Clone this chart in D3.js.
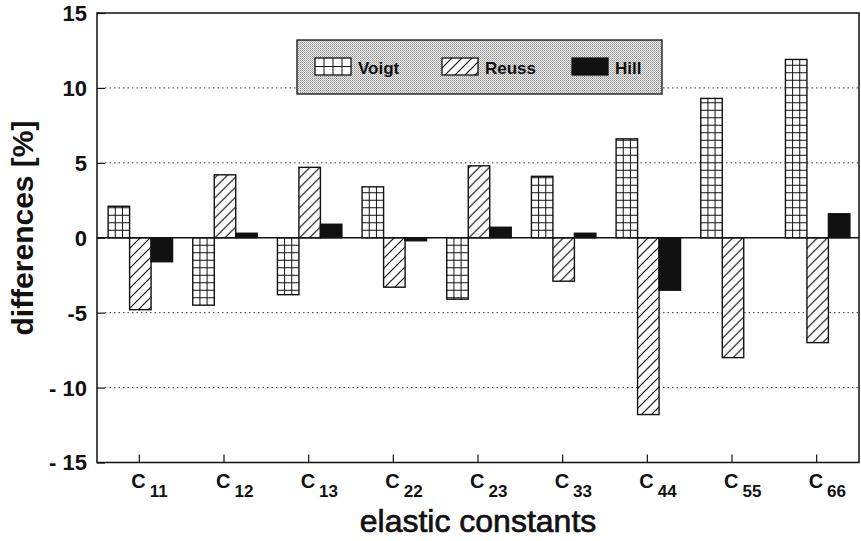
<!DOCTYPE html>
<html>
<head>
<meta charset="utf-8">
<script src="https://cdn.jsdelivr.net/npm/d3@7"></script>
<style>
  body { margin: 0; background: #fff; }
  text { font-family: "Liberation Sans", Arial, Helvetica, sans-serif; fill: #111; }
</style>
</head>
<body>
<div id="chart"></div>
<script>
// elastic constants C_ij, shown as C + subscript
var categories = ["11", "12", "13", "22", "23", "33", "44", "55", "66"];
var series = ["Voigt", "Reuss", "Hill"];

// differences [%]
var voigt = [2.1, -4.5, -3.8, 3.4, -4.1, 4.1, 6.6, 9.3, 11.9];
var reuss = [-4.8, 4.2, 4.7, -3.3, 4.8, -2.9, -11.8, -8.0, -7.0];
var hill  = [-1.6, 0.3, 0.9, -0.2, 0.7, 0.3, -3.5, 0.0, 1.6];

var yTicks = [-15, -10, -5, 0, 5, 10, 15];
var yTickLabels = ["- 15", "- 10", "-5", "0", "5", "10", "15"];
var gridValues = [-10, -5, 5, 10];

var width = 861,
    height = 541;

var svg = d3.select("#chart")
    .append("svg")
    .attr("width", width)
    .attr("height", height);

var defs = svg.append("defs");

// diagonal hatch for Reuss
var hatch = defs.append("pattern")
    .attr("id", "hatch")
    .attr("patternUnits", "userSpaceOnUse")
    .attr("width", 10)
    .attr("height", 10);
hatch.append("rect").attr("width", 10).attr("height", 10).attr("fill", "#fff");
hatch.append("path")
    .attr("d", "M-2,2 L2,-2 M0,10 L10,0 M8,12 L12,8")
    .attr("stroke", "#111")
    .attr("stroke-width", 1.2);

// stipple for the legend box
var stip = defs.append("pattern")
    .attr("id", "stipple")
    .attr("patternUnits", "userSpaceOnUse")
    .attr("width", 2)
    .attr("height", 2);
stip.append("rect").attr("width", 2).attr("height", 2).attr("fill", "#eeeeee");
stip.append("rect").attr("width", 1).attr("height", 1).attr("fill", "#8c8c8c");
stip.append("rect").attr("x", 1).attr("y", 1).attr("width", 1).attr("height", 1).attr("fill", "#b4b4b4");

var x0 = d3.scaleBand()
    .domain(categories)
    .range([97, 859])
    .paddingInner(0)
    .paddingOuter(0);

var x1 = d3.scaleBand()
    .domain(series)
    .range([0, x0.bandwidth()])
    .paddingInner(0)
    .paddingOuter(0.47);

var y = d3.scaleLinear()
    .domain([-15, 15])
    .range([462.5, 13]);

var left = x0.range()[0],
    right = x0.range()[1];

// dotted grid lines
svg.append("g")
  .selectAll("line")
  .data(gridValues)
  .enter()
  .append("line")
    .attr("x1", left + 8)
    .attr("x2", right)
    .attr("y1", function(d) { return y(d); })
    .attr("y2", function(d) { return y(d); })
    .attr("stroke", "#333")
    .attr("stroke-width", 1)
    .attr("stroke-dasharray", "1.5,3");

// y axis ticks (inward) and labels
var yAxis = d3.axisRight(y)
    .tickValues(yTicks)
    .tickSize(8)
    .tickFormat("");
svg.append("g")
    .attr("transform", "translate(" + left + ",0)")
    .call(yAxis)
    .call(function(g) { g.select(".domain").remove(); })
    .selectAll("line").attr("stroke", "#111").attr("stroke-width", 1.2);

svg.append("g")
  .selectAll("text")
  .data(yTicks)
  .enter()
  .append("text")
    .attr("x", left - 10)
    .attr("y", function(d) { return y(d); })
    .attr("dy", "0.36em")
    .attr("text-anchor", "end")
    .attr("font-size", 22)
    .attr("font-weight", "bold")
    .text(function(d, i) { return yTickLabels[i]; });

// x axis ticks (inward)
var xAxis = d3.axisTop(x0)
    .tickSize(8)
    .tickFormat("");
svg.append("g")
    .attr("transform", "translate(0," + y(-15) + ")")
    .call(xAxis)
    .call(function(g) { g.select(".domain").remove(); })
    .selectAll("line").attr("stroke", "#111").attr("stroke-width", 1.2);

// category labels C_ij
var xl = svg.append("g")
  .selectAll("text")
  .data(categories)
  .enter()
  .append("text")
    .attr("x", function(d) { return x0(d) + x0.bandwidth() / 2 - 8; })
    .attr("y", 488)
    .attr("font-size", 20)
    .attr("font-weight", "bold");
xl.append("tspan").text("C");
xl.append("tspan")
    .attr("dx", 4)
    .attr("dy", 9)
    .attr("font-size", 17)
    .text(function(d) { return d; });

// bars
var rows = categories.map(function(c, i) {
  return { cat: c, Voigt: voigt[i], Reuss: reuss[i], Hill: hill[i] };
});

var groups = svg.append("g")
  .selectAll("g")
  .data(rows)
  .enter()
  .append("g")
    .attr("transform", function(d) { return "translate(" + (x0(d.cat) + 1) + ",0)"; });

groups.each(function(d) {
  var g = d3.select(this);
  series.forEach(function(s) {
    var v = d[s];
    var bx = x1(s),
        bw = x1.bandwidth(),
        by = Math.min(y(v), y(0)),
        bh = Math.abs(y(v) - y(0));
    var fill = s === "Hill" ? "#111" : (s === "Reuss" ? "url(#hatch)" : "#fff");
    g.append("rect")
        .attr("x", bx)
        .attr("y", by)
        .attr("width", bw)
        .attr("height", bh)
        .attr("fill", fill)
        .attr("stroke", "#111")
        .attr("stroke-width", 1.4);
    if (s === "Voigt") {
      // square grid inside the Voigt bars
      var cell = 7.5;
      var lines = [];
      [1, 2].forEach(function(k) {
        lines.push([bx + k * bw / 3, by, bx + k * bw / 3, by + bh]);
      });
      for (var t = cell; t < bh - 1; t += cell) {
        var yy = v >= 0 ? y(0) - t : y(0) + t;
        lines.push([bx, yy, bx + bw, yy]);
      }
      g.selectAll(null)
        .data(lines)
        .enter()
        .append("line")
          .attr("x1", function(l) { return l[0]; })
          .attr("y1", function(l) { return l[1]; })
          .attr("x2", function(l) { return l[2]; })
          .attr("y2", function(l) { return l[3]; })
          .attr("stroke", "#111")
          .attr("stroke-width", 1);
    }
  });
});

// zero line
svg.append("line")
    .attr("x1", left)
    .attr("x2", right)
    .attr("y1", y(0))
    .attr("y2", y(0))
    .attr("stroke", "#111")
    .attr("stroke-width", 1.3);

// frame
svg.append("rect")
    .attr("x", left)
    .attr("y", y(15))
    .attr("width", right - left)
    .attr("height", y(-15) - y(15))
    .attr("fill", "none")
    .attr("stroke", "#111")
    .attr("stroke-width", 1.5);

// legend
var legend = svg.append("g");
legend.append("rect")
    .attr("x", 297)
    .attr("y", 40)
    .attr("width", 365)
    .attr("height", 54)
    .attr("fill", "url(#stipple)")
    .attr("stroke", "#111")
    .attr("stroke-width", 1.3);

var legendX = [315, 442, 572];
series.forEach(function(s, i) {
  var lx = legendX[i], ly = 58, lw = 36, lh = 17;
  var fill = s === "Hill" ? "#111" : (s === "Reuss" ? "url(#hatch)" : "#fff");
  legend.append("rect")
      .attr("x", lx)
      .attr("y", ly)
      .attr("width", lw)
      .attr("height", lh)
      .attr("fill", fill)
      .attr("stroke", "#111")
      .attr("stroke-width", 1.3);
  if (s === "Voigt") {
    var ll = [];
    [1, 2, 3].forEach(function(k) { ll.push([lx + k * lw / 4, ly, lx + k * lw / 4, ly + lh]); });
    ll.push([lx, ly + lh / 2, lx + lw, ly + lh / 2]);
    legend.selectAll(null)
      .data(ll)
      .enter()
      .append("line")
        .attr("x1", function(l) { return l[0]; })
        .attr("y1", function(l) { return l[1]; })
        .attr("x2", function(l) { return l[2]; })
        .attr("y2", function(l) { return l[3]; })
        .attr("stroke", "#111")
        .attr("stroke-width", 1);
  }
  legend.append("text")
      .attr("x", lx + lw + 7)
      .attr("y", 74)
      .attr("font-size", 17)
      .attr("font-weight", "bold")
      .text(s);
});

// axis titles
svg.append("text")
    .attr("transform", "translate(33,228) rotate(-90)")
    .attr("text-anchor", "middle")
    .attr("font-size", 30)
    .attr("font-weight", "bold")
    .text("differences [%]");

svg.append("text")
    .attr("x", (left + right) / 2)
    .attr("y", 532)
    .attr("text-anchor", "middle")
    .attr("font-size", 32)
    .attr("stroke", "#111")
    .attr("stroke-width", 0.7)
    .text("elastic constants");
</script>
</body>
</html>
